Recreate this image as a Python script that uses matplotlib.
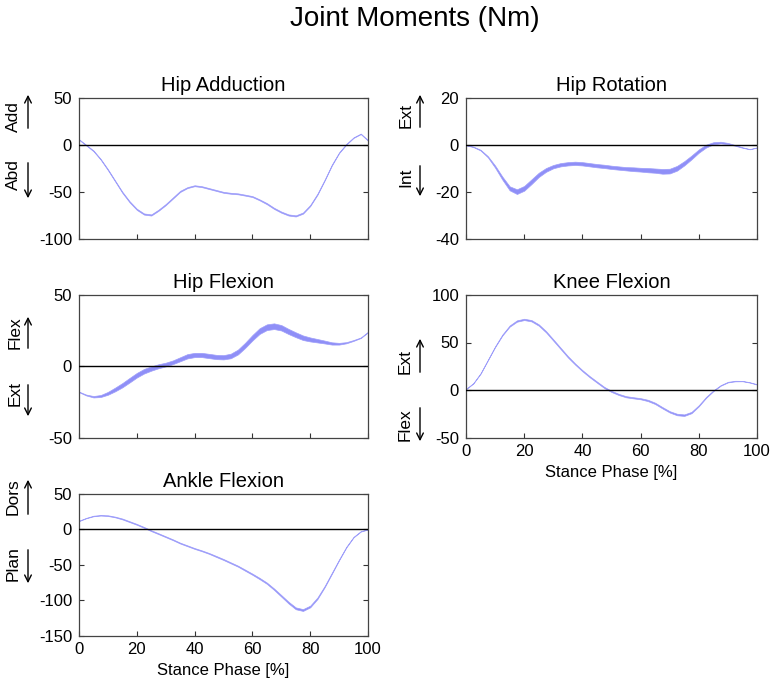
import matplotlib
matplotlib.use('Agg')
import matplotlib.pyplot as plt
import numpy as np

plt.rcParams['font.family'] = ['Liberation Sans', 'DejaVu Sans']
plt.rcParams['axes.unicode_minus'] = False

# stance phase samples [%]
stance = np.arange(0, 100.1, 2.5)

# mean joint moments (Nm)
hip_add = [6, 0, -6, -15, -26, -38, -50, -60, -68, -73, -74, -69, -63, -56, -49, -45, -43,
           -44, -46, -48, -50, -51, -51.6, -53, -54.5, -58, -62, -67, -71, -74, -75, -72,
           -64, -52, -37, -21, -8, 1, 8, 12, 5]
hip_add_sd = [0.3, 0.3, 0.4, 0.4, 0.5, 0.5, 0.6, 0.6, 0.6, 0.6, 0.6, 0.6, 0.6, 0.6, 0.6, 0.5, 0.5,
              0.5, 0.5, 0.5, 0.5, 0.5, 0.5, 0.5, 0.5, 0.5, 0.6, 0.6, 0.6, 0.6, 0.6, 0.6,
              0.6, 0.6, 0.5, 0.5, 0.4, 0.4, 0.3, 0.3, 0.3]

hip_rot = [0, -0.7, -2.1, -4.9, -9.1, -14, -18.3, -19.7, -18.3, -15.5, -12.6, -10.5, -9.1,
           -8.3, -7.9, -7.7, -7.9, -8.3, -8.7, -9.0, -9.4, -9.7, -10, -10.2, -10.4, -10.6,
           -10.8, -11.1, -11, -9.8, -7.7, -5.2, -2.5, -0.4, 0.8, 1.1, 0.7, -0.1, -1, -1.7, -1]
hip_rot_sd = [0.05, 0.1, 0.15, 0.25, 0.45, 0.65, 0.85, 1.0, 1.0, 1.0, 0.9, 0.8, 0.7,
              0.7, 0.7, 0.7, 0.7, 0.7, 0.7, 0.7, 0.7, 0.7, 0.7, 0.8, 0.8, 0.9,
              0.9, 1.0, 1.0, 1.0, 0.9, 0.8, 0.7, 0.6, 0.45, 0.35, 0.25, 0.15, 0.1, 0.05, 0.05]

hip_flex = [-18, -20.2, -21.4, -20.9, -19, -16.3, -13.3, -9.8, -6.3, -3.5, -1.6, 0, 1.2, 2.8,
            4.9, 7, 7.9, 7.9, 7.2, 6.5, 6.3, 7.2, 10, 14.7, 20, 24.7, 27.4, 28.1, 27, 24.4,
            22.1, 20, 18.8, 17.9, 17, 16, 15.8, 16.5, 18.1, 20, 24]
hip_flex_sd = [0.2, 0.3, 0.5, 0.7, 1.0, 1.3, 1.5, 1.6, 1.6, 1.6, 1.5, 1.4, 1.3, 1.3,
               1.4, 1.5, 1.5, 1.5, 1.5, 1.5, 1.5, 1.6, 1.7, 1.8, 1.9, 2.0, 2.0, 2.0, 1.9, 1.8,
               1.7, 1.6, 1.4, 1.2, 1.0, 0.8, 0.6, 0.4, 0.3, 0.2, 0.2]

knee_flex = [1, 7, 17.4, 31.5, 45.6, 57.9, 67.3, 72.6, 74.3, 72.9, 68.4, 61.3, 52.6, 43.8,
             35, 27.3, 20.3, 14, 8.3, 2.7, -1.5, -4.7, -7.1, -8.2, -9.2, -11, -14.1, -18.7,
             -23, -25.8, -26.5, -23.7, -16.6, -7.8, -0.8, 4.8, 8.3, 9.4, 9.4, 8, 5.9]
knee_flex_sd = [0.2, 0.2, 0.3, 0.3, 0.4, 0.5, 0.6, 0.7, 0.7, 0.7, 0.7, 0.7, 0.7, 0.7,
                0.7, 0.6, 0.6, 0.6, 0.6, 0.6, 0.6, 0.6, 0.6, 0.6, 0.6, 0.7, 0.7, 0.7,
                0.7, 0.8, 0.8, 0.7, 0.6, 0.5, 0.4, 0.3, 0.3, 0.3, 0.2, 0.2, 0.2]

ankle_flex = [12, 16, 18.9, 19.9, 19.4, 17.5, 14.7, 10.9, 7.1, 2.8, -1.9, -6.1, -10.4, -14.7,
              -19.4, -23.2, -27, -30.3, -34, -38.3, -42.6, -47.3, -52, -57.7, -63.4, -69.5,
              -76.1, -84.6, -94, -103.5, -111.6, -114, -109, -97.4, -80.9, -62, -43, -25,
              -10.9, -2.8, 0]
ankle_flex_sd = [0.3, 0.3, 0.4, 0.4, 0.5, 0.5, 0.6, 0.6, 0.6, 0.6, 0.6, 0.6, 0.6, 0.6,
                 0.6, 0.6, 0.6, 0.6, 0.6, 0.7, 0.7, 0.7, 0.7, 0.8, 0.8, 0.9,
                 0.9, 1.0, 1.1, 1.2, 1.3, 1.3, 1.2, 1.1, 0.9, 0.8, 0.6, 0.5,
                 0.4, 0.3, 0.2]

titles = ['Hip Adduction', 'Hip Rotation', 'Hip Flexion', 'Knee Flexion', 'Ankle Flexion']
series = [hip_add, hip_rot, hip_flex, knee_flex, ankle_flex]
spreads = [hip_add_sd, hip_rot_sd, hip_flex_sd, knee_flex_sd, ankle_flex_sd]
ylims = [(-100, 50), (-40, 20), (-50, 50), (-50, 100), (-150, 50)]
yticks = [[-100, -50, 0, 50], [-40, -20, 0, 20], [-50, 0, 50], [-50, 0, 50, 100],
          [-150, -100, -50, 0, 50]]
pos_labels = ['Add', 'Ext', 'Flex', 'Ext', 'Dors']
neg_labels = ['Abd', 'Int', 'Ext', 'Flex', 'Plan']
xticks = [0, 20, 40, 60, 80, 100]

W, H = 777, 696
fig = plt.figure(figsize=(W / 100, H / 100), dpi=100)

# axes boxes in pixels: left, top, width, height
boxes = [(79, 98, 289, 141.5), (466, 98, 291, 141.5),
         (79, 295, 289, 142.5), (466, 295, 291, 142.5),
         (79, 494, 289, 141.5)]
# direction labels: text x, up text y, up arrow (y0, y1), down text y, down arrow (y0, y1), arrow x
arrows = [(13, 117, (131, 92), 175, (160, 201), 28),
          (406, 116, (130, 92), 177, (163, 199), 420),
          (15, 333, (351, 314), 394, (382, 419), 28),
          (405, 361, (375, 336), 425, (405, 444), 420),
          (13, 497, (517, 477), 564, (547, 586), 28)]

band_face = (0.56, 0.56, 0.97)
band_edge = (0.62, 0.62, 0.98)

def px(x, y):
    return (x / W, 1 - y / H)

for i in range(5):
    l, t, w, h = boxes[i]
    ax = fig.add_axes([l / W, 1 - (t + h) / H, w / W, h / H])
    m = np.array(series[i])
    s = np.array(spreads[i])
    ax.fill_between(stance, m - s, m + s, facecolor=band_face, edgecolor=band_edge,
                    linewidth=0.5, zorder=2)
    ax.axhline(0, color='black', linewidth=1.0, zorder=3)
    ax.set_xlim(0, 100)
    ax.set_ylim(*ylims[i])
    ax.set_yticks(yticks[i])
    ax.set_xticks(xticks)
    ax.set_title(titles[i], fontsize=14.5, pad=5)
    ax.tick_params(direction='in', length=3.5, width=0.8, labelsize=12, pad=5,
                   right=True, colors='#333333', labelcolor='black')
    for sp in ax.spines.values():
        sp.set_color('#444444')
        sp.set_linewidth(0.9)
    if i in (3, 4):
        ax.set_xlabel('Stance Phase [%]', fontsize=12, labelpad=4)
    else:
        ax.tick_params(labelbottom=False)

    tx, uy, ua, dy, da, axx = arrows[i]
    fig.text(*px(tx, uy), pos_labels[i], rotation=90, fontsize=12.5, ha='center', va='center')
    fig.text(*px(tx, dy), neg_labels[i], rotation=90, fontsize=12.5, ha='center', va='center')
    fig.add_artist(matplotlib.patches.FancyArrowPatch(px(axx, ua[0]), px(axx, ua[1]),
                   transform=fig.transFigure, arrowstyle='->', mutation_scale=12,
                   linewidth=1.0, color='black'))
    fig.add_artist(matplotlib.patches.FancyArrowPatch(px(axx, da[0]), px(axx, da[1]),
                   transform=fig.transFigure, arrowstyle='->', mutation_scale=12,
                   linewidth=1.0, color='black'))

fig.text(*px(415, 19), 'Joint Moments (Nm)', fontsize=20, ha='center', va='center')

fig.savefig('out.png', dpi=100)
